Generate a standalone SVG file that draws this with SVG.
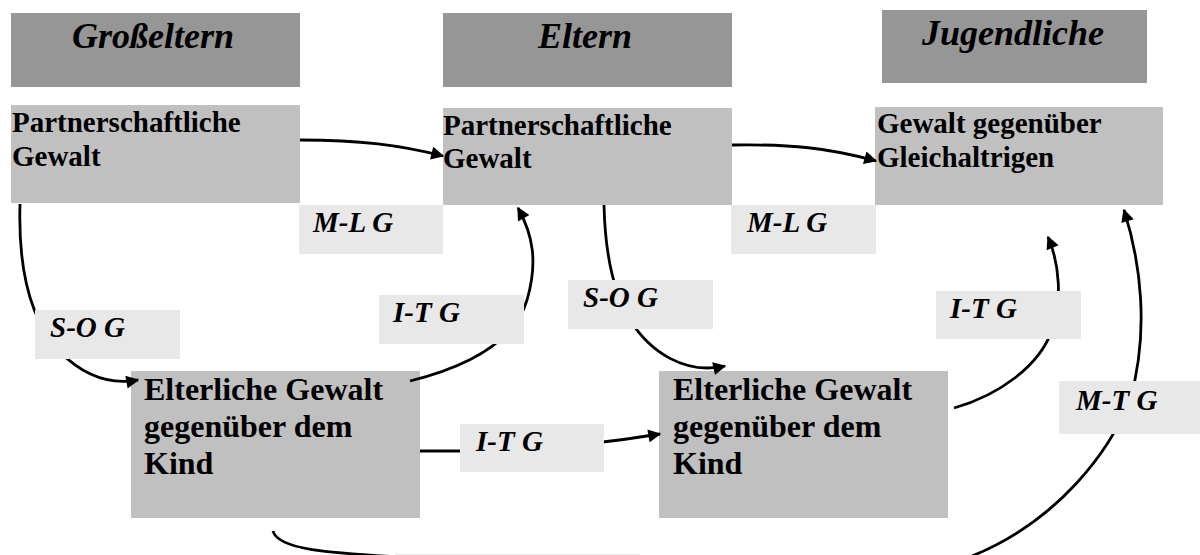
<svg xmlns="http://www.w3.org/2000/svg" width="1200" height="555" viewBox="0 0 1200 555">
<style>
.hdr{fill:#969696}
.node{fill:#c0c0c0}
.lbl{fill:#e8e8e8}
text{font-family:"Liberation Serif","Times New Roman",serif;font-weight:bold;fill:#000}
.ht{font-size:36px;font-style:italic;text-anchor:middle}
.nt{font-size:29px}
.nt2{font-size:32px}
.lt{font-size:29px;font-style:italic}
.con{fill:none;stroke:#000;stroke-width:2.8}
</style>
<defs>
<marker id="ah" viewBox="0 0 10 10" refX="9" refY="5" markerWidth="17" markerHeight="13" markerUnits="userSpaceOnUse" orient="auto">
<path d="M0,0 L10,5 L0,10 z" fill="#000"/>
</marker>
</defs>
<rect x="0" y="0" width="1200" height="555" fill="#fff"/>
<g id="hdr-grosseltern"><rect class="hdr" x="11" y="13" width="289" height="74"/><text class="ht" x="153" y="48">Großeltern</text></g>
<g id="hdr-eltern"><rect class="hdr" x="443" y="13" width="289" height="74"/><text class="ht" x="585" y="48">Eltern</text></g>
<g id="hdr-jugendliche"><rect class="hdr" x="882" y="10" width="265" height="73"/><text class="ht" x="1013" y="45">Jugendliche</text></g>
<g id="node-gp-partner"><rect class="node" x="11" y="105" width="289" height="98"/><text class="nt" x="12" y="132">Partnerschaftliche</text><text class="nt" x="12" y="166">Gewalt</text></g>
<g id="node-el-partner"><rect class="node" x="443" y="108" width="289" height="97"/><text class="nt" x="443" y="135">Partnerschaftliche</text><text class="nt" x="443" y="168">Gewalt</text></g>
<g id="node-ju-peer"><rect class="node" x="875" y="107" width="288" height="98"/><text class="nt" x="877" y="133">Gewalt gegenüber</text><text class="nt" x="877" y="167">Gleichaltrigen</text></g>
<g id="node-gp-kind"><rect class="node" x="131" y="371" width="289" height="147"/><text class="nt2" x="144" y="400">Elterliche Gewalt</text><text class="nt2" x="144" y="437">gegenüber dem</text><text class="nt2" x="144" y="474">Kind</text></g>
<g id="node-el-kind"><rect class="node" x="659" y="371" width="289" height="147"/><text class="nt2" x="673" y="400">Elterliche Gewalt</text><text class="nt2" x="673" y="437">gegenüber dem</text><text class="nt2" x="673" y="474">Kind</text></g>
<g id="connectors">
<path class="con" marker-end="url(#ah)" d="M300 140 C360 140,400 145,443 156"/>
<path class="con" marker-end="url(#ah)" d="M732 145 C790 144,830 148,876 161"/>
<path class="con" marker-end="url(#ah)" d="M20 204 C18 270,30 320,60 352 C80 372,105 386,138 380"/>
<path class="con" marker-end="url(#ah)" d="M410 381 C470 366,515 340,527 300 C538 262,533 235,518 208"/>
<path class="con" marker-end="url(#ah)" d="M604 205 C605 250,612 290,630 320 C650 352,685 375,725 366"/>
<path class="con" marker-end="url(#ah)" d="M420 451 L470 451 C530 450,600 444,660 434"/>
<path class="con" marker-end="url(#ah)" d="M954 408 C1000 395,1040 365,1052 330 C1062 300,1060 265,1048 237"/>
<path class="con" marker-end="url(#ah)" d="M273 531 C278 550,330 553,400 557 C600 575,850 580,972 556 C1060 520,1110 450,1130 400 C1150 330,1140 260,1124 210"/>
</g>
<g id="lbl-ml1"><rect class="lbl" x="299" y="205" width="144" height="49"/><text class="lt" x="313" y="232">M-L G</text></g>
<g id="lbl-ml2"><rect class="lbl" x="731" y="205" width="145" height="49"/><text class="lt" x="747" y="232">M-L G</text></g>
<g id="lbl-so1"><rect class="lbl" x="35" y="310" width="145" height="49"/><text class="lt" x="50" y="337">S-O G</text></g>
<g id="lbl-so2"><rect class="lbl" x="568" y="280" width="145" height="49"/><text class="lt" x="583" y="307">S-O G</text></g>
<g id="lbl-it1"><rect class="lbl" x="379" y="295" width="145" height="49"/><text class="lt" x="393" y="322">I-T G</text></g>
<g id="lbl-it2"><rect class="lbl" x="936" y="291" width="145" height="48"/><text class="lt" x="950" y="318">I-T G</text></g>
<g id="lbl-it3"><rect class="lbl" x="460" y="424" width="144" height="48"/><text class="lt" x="476" y="451">I-T G</text></g>
<g id="lbl-mt"><rect class="lbl" x="1059" y="381" width="141" height="53"/><text class="lt" x="1076" y="410">M-T G</text></g>
<g id="lbl-bottom"><rect class="lbl" x="395" y="554" width="245" height="10"/></g>
</svg>
